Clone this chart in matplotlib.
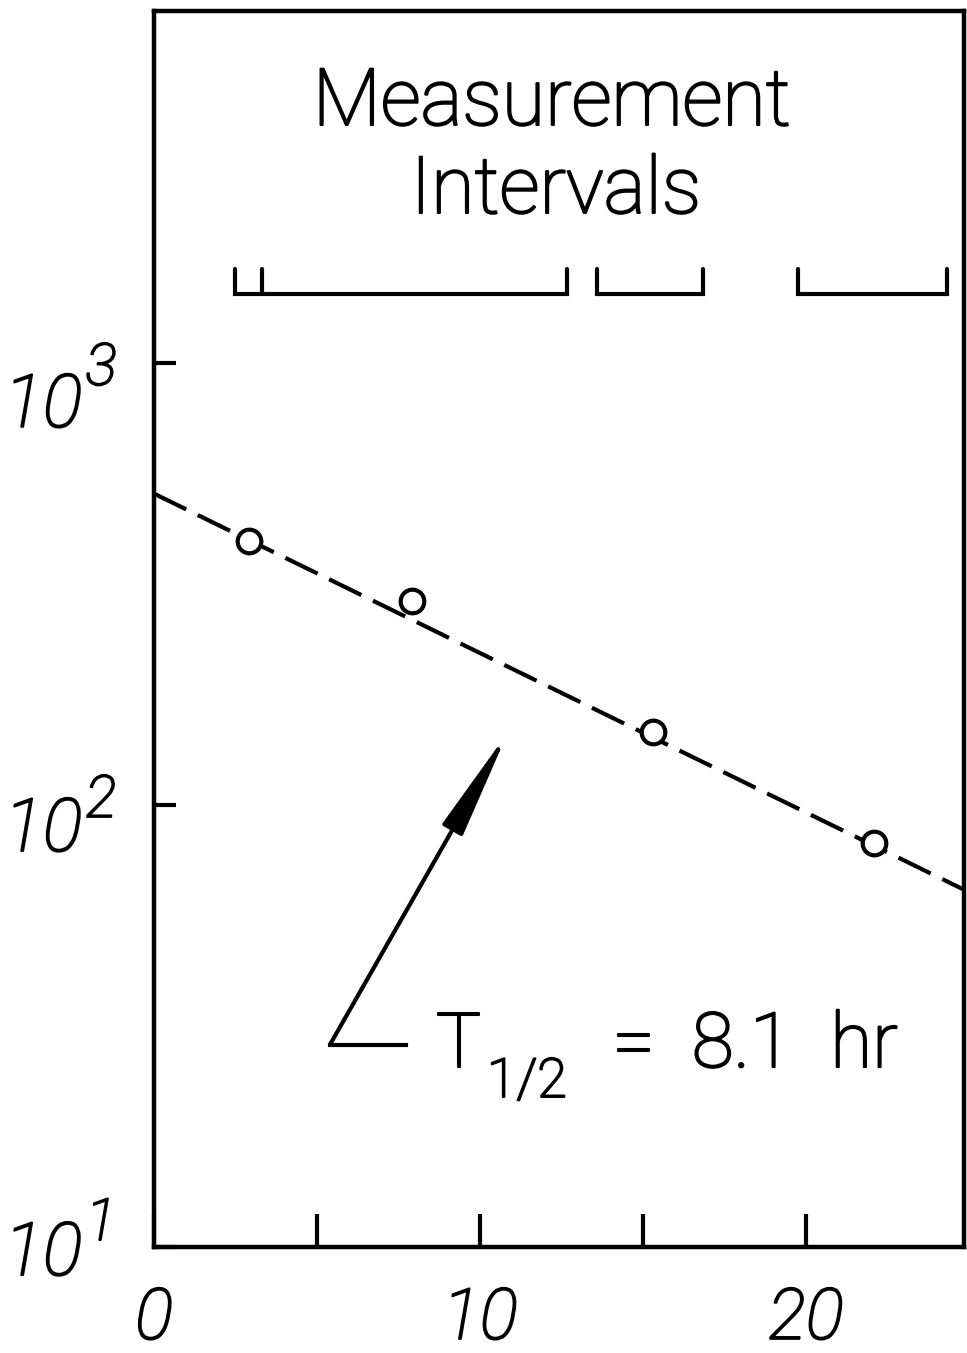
import matplotlib
matplotlib.use("Agg")
import matplotlib.pyplot as plt
from matplotlib.patches import FancyArrowPatch
from matplotlib.transforms import offset_copy
import matplotlib.patheffects as pe

# ---------------- data ----------------
time_hr = [2.92, 7.93, 15.30, 22.09]
activity = [396, 289, 146, 82]

fit_time = [0, 25]
fit_activity = [506, 63.5]

interval_start = [2.48, 13.59, 19.75]
interval_end = [12.67, 16.84, 24.33]
interval_extra_ticks = [3.31]

x_ticks = [0, 5, 10, 15, 20]
x_tick_labels = ["0", "", "10", "", "20"]
y_ticks = [10, 100, 1000]
y_tick_exponents = ["1", "2", "3"]

# ---------------- style ----------------
FONT = "Roboto"
THICK = [pe.withStroke(linewidth=1.4, foreground="black")]
THICK_T = [pe.withStroke(linewidth=1.5, foreground="black")]

W, H, DPI = 967, 1353, 100
fig = plt.figure(figsize=(W / DPI, H / DPI), dpi=DPI)
ax = fig.add_axes([154 / W, 1 - 1247 / H, (964 - 154) / W, (1247 - 11) / H])
ax.set_yscale("log")
ax.set_xlim(0, 24.85)
ax.set_ylim(10, 6250)

for s in ax.spines.values():
    s.set_linewidth(3.2)

ax.set_xticks(x_ticks)
ax.set_xticklabels(x_tick_labels)
ax.set_yticks(y_ticks)
ax.set_yticklabels([])
ax.minorticks_off()
ax.tick_params(axis="x", direction="in", length=24, width=3, pad=28,
               labelsize=51)
ax.tick_params(axis="y", direction="in", length=16, width=3)
for lab in ax.get_xticklabels():
    lab.set_fontfamily(FONT)
    lab.set_fontweight("light")
    lab.set_fontstyle("italic")
    lab.set_path_effects(THICK)

# fit line
ax.plot(fit_time, fit_activity, color="black", lw=3, dashes=(8.6, 3.1),
        solid_capstyle="butt", zorder=2)
# points
ax.plot(time_hr, activity, linestyle="none", marker="o", markersize=17,
        markeredgewidth=3, markerfacecolor="white", markeredgecolor="black",
        zorder=3)

# measurement interval brackets
b_low, b_high = 1432, 1632
for a, b in zip(interval_start, interval_end):
    ax.plot([a, a, b, b], [b_high, b_low, b_low, b_high], color="black",
            lw=3, solid_joinstyle="miter", solid_capstyle="round")
for t in interval_extra_ticks:
    ax.plot([t, t], [b_low, b_high], color="black", lw=3,
            solid_capstyle="round")

# title text
tkw = dict(fontfamily=FONT, fontweight="light", fontsize=57,
           transform=ax.transAxes, va="baseline", path_effects=THICK_T)
ax.text(0.491, 0.9078, "Measurement", ha="center", **tkw)
ax.text(0.496, 0.8366, "Intervals", ha="center", **tkw)

# half-life annotation
akw = dict(tkw)
akw["fontsize"] = 55
ax.text(0.348, 0.1456, "T", ha="left", **akw)
skw = dict(tkw)
skw["fontsize"] = 39
ax.text(0.411, 0.1214, "1/2", ha="left", **skw)
ax.text(0.566, 0.1456, "=", ha="left", **akw)
ax.text(0.664, 0.1456, "8.1", ha="left", **akw)
ax.text(0.835, 0.1456, "hr", ha="left", **akw)

ax.plot([5.40, 7.73], [28.7, 28.7], color="black", lw=3)
arrow = FancyArrowPatch((5.40, 28.7), (10.86, 146),
                        arrowstyle="-|>,head_length=66,head_width=7",
                        mutation_scale=1, color="black", lw=3,
                        shrinkA=0, shrinkB=0)
ax.add_patch(arrow)

# y tick labels (10 with large superscript)
base_off = [-28, -46, -64]
sup_off = [7, -12, -22]
yt = ax.get_yaxis_transform()
for v, e, bo, so in zip(y_ticks, y_tick_exponents, base_off, sup_off):
    tr1 = offset_copy(yt, fig=fig, x=0, y=bo, units="dots")
    ax.text((43 - 154) / 810, v, "10", transform=tr1, ha="center",
            va="baseline", fontfamily=FONT, fontweight="light",
            fontstyle="italic", fontsize=53, clip_on=False,
            path_effects=THICK)
    tr2 = offset_copy(yt, fig=fig, x=0, y=so, units="dots")
    ax.text((101 - 154) / 810, v, e, transform=tr2, ha="center",
            va="baseline", fontfamily=FONT, fontweight="light",
            fontstyle="italic", fontsize=42, clip_on=False,
            path_effects=THICK)

fig.savefig("out.png", dpi=DPI)
